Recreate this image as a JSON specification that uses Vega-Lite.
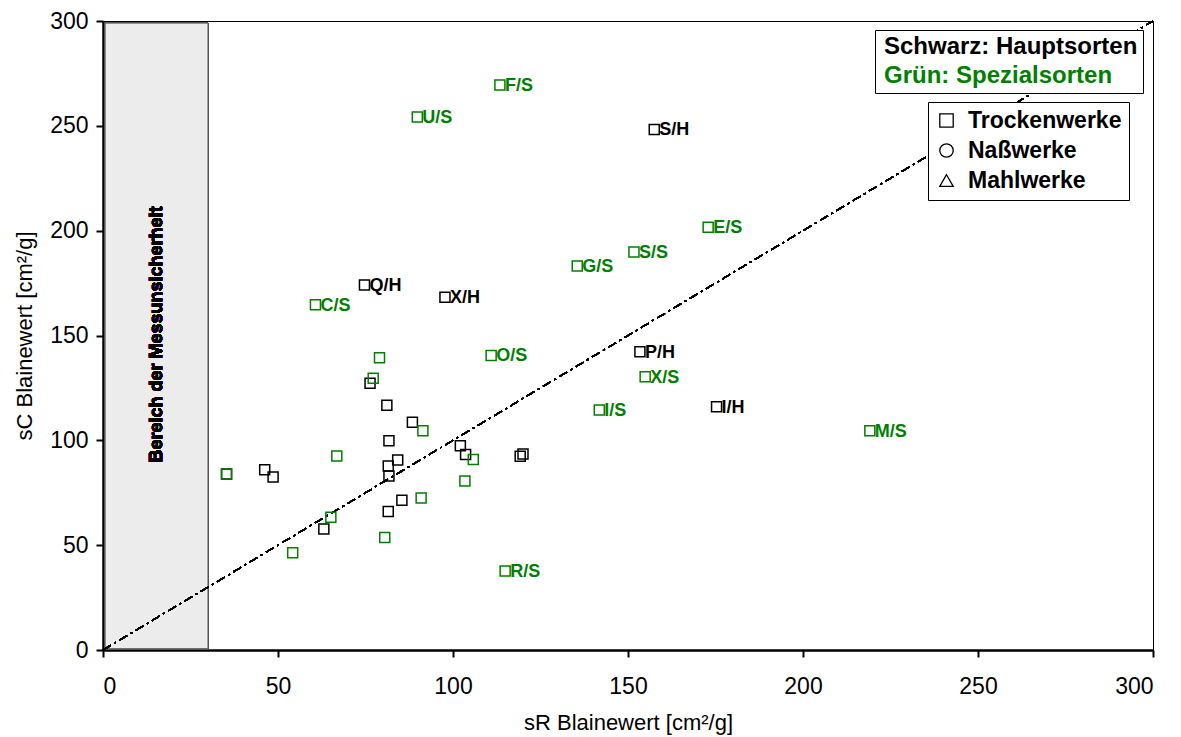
{
  "$schema": "https://vega.github.io/schema/vega-lite/v6.json",
  "width": 1050,
  "height": 629,
  "autosize": {"type": "none"},
  "padding": {"left": 103, "top": 21, "right": 28, "bottom": 87},
  "background": "white",
  "config": {
    "font": "Liberation Sans",
    "view": {"stroke": "black", "strokeWidth": 1},
    "axis": {
      "domainColor": "black", "domainWidth": 2.5,
      "tickColor": "black", "tickWidth": 2, "tickSize": 7,
      "gridColor": "black", "gridWidth": 1, "gridOpacity": 0.85,
      "labelFont": "Liberation Sans", "labelFontSize": 23, "labelColor": "black",
      "titleFont": "Liberation Sans", "titleFontSize": 22, "titleFontWeight": "normal", "titleColor": "black"
    }
  },
  "data": {"values": [
    {"x": 113.4, "y": 269.5, "label": "F/S", "grp": "S", "werk": "Trockenwerke"},
    {"x": 89.8, "y": 254.2, "label": "U/S", "grp": "S", "werk": "Trockenwerke"},
    {"x": 157.5, "y": 248.3, "label": "S/H", "grp": "H", "werk": "Trockenwerke"},
    {"x": 172.9, "y": 201.6, "label": "E/S", "grp": "S", "werk": "Trockenwerke"},
    {"x": 151.7, "y": 189.8, "label": "S/S", "grp": "S", "werk": "Trockenwerke"},
    {"x": 135.5, "y": 183.1, "label": "G/S", "grp": "S", "werk": "Trockenwerke"},
    {"x": 74.7, "y": 174.1, "label": "Q/H", "grp": "H", "werk": "Trockenwerke"},
    {"x": 97.7, "y": 168.2, "label": "X/H", "grp": "H", "werk": "Trockenwerke"},
    {"x": 60.7, "y": 164.7, "label": "C/S", "grp": "S", "werk": "Trockenwerke"},
    {"x": 110.9, "y": 140.5, "label": "O/S", "grp": "S", "werk": "Trockenwerke"},
    {"x": 153.4, "y": 142.3, "label": "P/H", "grp": "H", "werk": "Trockenwerke"},
    {"x": 154.9, "y": 130.3, "label": "X/S", "grp": "S", "werk": "Trockenwerke"},
    {"x": 141.8, "y": 114.5, "label": "I/S", "grp": "S", "werk": "Trockenwerke"},
    {"x": 175.3, "y": 116.0, "label": "I/H", "grp": "H", "werk": "Trockenwerke"},
    {"x": 219.1, "y": 104.6, "label": "M/S", "grp": "S", "werk": "Trockenwerke"},
    {"x": 114.9, "y": 37.7, "label": "R/S", "grp": "S", "werk": "Trockenwerke"},
    {"x": 76.3, "y": 127.2, "label": "", "grp": "H", "werk": "Trockenwerke"},
    {"x": 81.1, "y": 116.7, "label": "", "grp": "H", "werk": "Trockenwerke"},
    {"x": 88.4, "y": 108.6, "label": "", "grp": "H", "werk": "Trockenwerke"},
    {"x": 81.7, "y": 99.8, "label": "", "grp": "H", "werk": "Trockenwerke"},
    {"x": 84.2, "y": 90.6, "label": "", "grp": "H", "werk": "Trockenwerke"},
    {"x": 81.5, "y": 87.7, "label": "", "grp": "H", "werk": "Trockenwerke"},
    {"x": 81.7, "y": 83.0, "label": "", "grp": "H", "werk": "Trockenwerke"},
    {"x": 35.3, "y": 83.9, "label": "", "grp": "H", "werk": "Trockenwerke"},
    {"x": 46.2, "y": 86.0, "label": "", "grp": "H", "werk": "Trockenwerke"},
    {"x": 48.6, "y": 82.5, "label": "", "grp": "H", "werk": "Trockenwerke"},
    {"x": 102.1, "y": 97.4, "label": "", "grp": "H", "werk": "Trockenwerke"},
    {"x": 103.6, "y": 93.3, "label": "", "grp": "H", "werk": "Trockenwerke"},
    {"x": 119.2, "y": 92.4, "label": "", "grp": "H", "werk": "Trockenwerke"},
    {"x": 120.0, "y": 93.5, "label": "", "grp": "H", "werk": "Trockenwerke"},
    {"x": 85.4, "y": 71.4, "label": "", "grp": "H", "werk": "Trockenwerke"},
    {"x": 81.5, "y": 66.1, "label": "", "grp": "H", "werk": "Trockenwerke"},
    {"x": 63.1, "y": 57.7, "label": "", "grp": "H", "werk": "Trockenwerke"},
    {"x": 79.0, "y": 139.4, "label": "", "grp": "S", "werk": "Trockenwerke"},
    {"x": 77.2, "y": 129.6, "label": "", "grp": "S", "werk": "Trockenwerke"},
    {"x": 91.4, "y": 104.6, "label": "", "grp": "S", "werk": "Trockenwerke"},
    {"x": 66.8, "y": 92.5, "label": "", "grp": "S", "werk": "Trockenwerke"},
    {"x": 35.3, "y": 84.0, "label": "", "grp": "S", "werk": "Trockenwerke"},
    {"x": 105.8, "y": 90.9, "label": "", "grp": "S", "werk": "Trockenwerke"},
    {"x": 103.4, "y": 80.6, "label": "", "grp": "S", "werk": "Trockenwerke"},
    {"x": 90.9, "y": 72.5, "label": "", "grp": "S", "werk": "Trockenwerke"},
    {"x": 65.1, "y": 63.3, "label": "", "grp": "S", "werk": "Trockenwerke"},
    {"x": 80.5, "y": 53.7, "label": "", "grp": "S", "werk": "Trockenwerke"},
    {"x": 54.2, "y": 46.4, "label": "", "grp": "S", "werk": "Trockenwerke"}
  ]},
  "layer": [
    {
      "mark": {"type": "rect", "fill": "#ececec", "stroke": "#555555", "strokeWidth": 1},
      "encoding": {
        "x": {"datum": 0.6, "type": "quantitative", "scale": {"domain": [0, 300], "nice": false},
          "axis": {"values": [0, 50, 100, 150, 200, 250, 300], "title": "sR Blainewert [cm²/g]", "labelPadding": 18, "titlePadding": 14}},
        "x2": {"datum": 30},
        "y": {"datum": 0.6, "type": "quantitative", "scale": {"domain": [0, 300], "nice": false},
          "axis": {"values": [0, 50, 100, 150, 200, 250, 300], "title": "sC Blainewert [cm²/g]", "labelPadding": 8, "titlePadding": 13}},
        "y2": {"datum": 299}
      }
    },
    {
      "mark": {"type": "text", "text": "Bereich der Messunsicherheit", "angle": 270, "fontSize": 18, "fontWeight": "bold", "align": "center", "baseline": "middle", "fill": "#000000"},
      "encoding": {
        "x": {"datum": 15.4, "type": "quantitative"},
        "y": {"datum": 150.5, "type": "quantitative"}
      }
    },
    {
      "mark": {"type": "rule", "color": "black", "strokeWidth": 1.2, "strokeDash": [9, 4, 2, 4]},
      "encoding": {
        "x": {"datum": 0, "type": "quantitative"},
        "x2": {"datum": 300},
        "y": {"datum": 0, "type": "quantitative"},
        "y2": {"datum": 300}
      }
    },
    {
      "mark": {"type": "point", "filled": false, "strokeWidth": 1.5, "size": 100, "opacity": 1},
      "encoding": {
        "x": {"field": "x", "type": "quantitative"},
        "y": {"field": "y", "type": "quantitative"},
        "color": {"field": "grp", "type": "nominal",
          "scale": {"domain": ["H", "S"], "range": ["#000000", "#008000"]},
          "legend": {
            "orient": "none", "legendX": 772, "legendY": 9, "direction": "vertical",
            "title": null, "labelExpr": "datum.value == 'H' ? 'Schwarz: Hauptsorten' : 'Grün: Spezialsorten'",
            "labelFont": "Liberation Sans", "labelFontSize": 24, "labelFontWeight": "bold", "labelLimit": 400,
            "labelColor": {"expr": "datum.value == 'S' ? '#008000' : '#000000'"},
            "symbolSize": 0, "symbolOpacity": 0, "symbolStrokeWidth": 0, "labelOffset": -20,
            "rowPadding": 5, "padding": 5, "fillColor": "white", "strokeColor": "black"
          }},
        "shape": {"field": "werk", "type": "nominal",
          "scale": {"domain": ["Trockenwerke", "Naßwerke", "Mahlwerke"], "range": ["square", "circle", "triangle-up"]},
          "legend": {
            "orient": "none", "legendX": 825, "legendY": 81, "direction": "vertical",
            "title": null, "labelFont": "Liberation Sans", "labelFontSize": 23, "labelFontWeight": "bold", "labelColor": "black", "labelLimit": 400,
            "symbolSize": 180, "symbolStrokeColor": "black", "symbolFillColor": "white", "symbolStrokeWidth": 1.3, "labelOffset": 10,
            "rowPadding": 6, "padding": 7, "fillColor": "white", "strokeColor": "black"
          }}
      }
    },
    {
      "transform": [{"filter": "datum.label != ''"}],
      "mark": {"type": "text", "align": "left", "baseline": "middle", "dx": 5, "dy": 1, "fontSize": 18, "fontWeight": "bold"},
      "encoding": {
        "x": {"field": "x", "type": "quantitative"},
        "y": {"field": "y", "type": "quantitative"},
        "text": {"field": "label"},
        "color": {"field": "grp", "type": "nominal"}
      }
    }
  ]
}
